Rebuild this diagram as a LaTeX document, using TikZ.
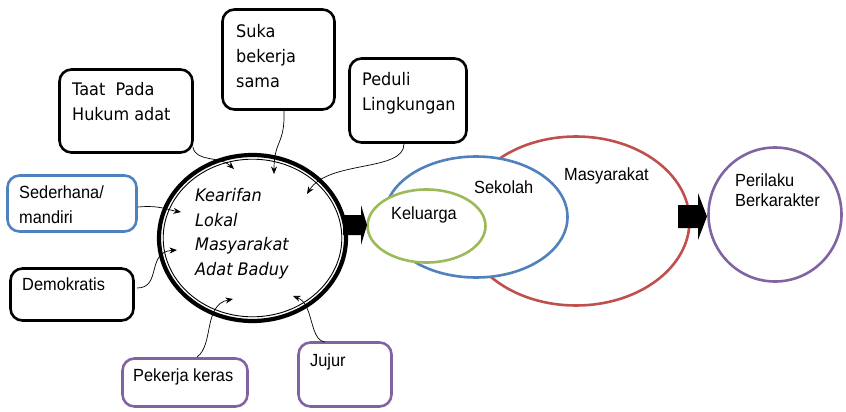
\documentclass[tikz,border=0pt]{standalone}
\usepackage{fontspec}
\setmainfont[FakeStretch=0.93]{Liberation Sans}
\newfontfamily\vfont[FakeStretch=0.93]{DejaVu Sans}
\usetikzlibrary{arrows.meta,shapes.geometric}
\definecolor{oblue}{HTML}{4F81BD}
\definecolor{ogreen}{HTML}{9BBB59}
\definecolor{ored}{HTML}{C0504D}
\definecolor{opurple}{HTML}{8064A2}
\begin{document}
\begin{tikzpicture}[x=1pt,y=-1pt,
  box/.style={draw, rounded corners=12pt, line width=2.6pt, inner sep=0pt},
  txt/.style={anchor=north west, inner sep=0pt, align=left, font=\fontsize{17.6}{25}\selectfont},
  vtxt/.style={anchor=north west, inner sep=0pt, align=left, font=\vfont\fontsize{17.3}{25}\selectfont},
  itxt/.style={anchor=north west, inner sep=0pt, align=left, font=\vfont\itshape\fontsize{17.3}{24.7}\selectfont},
  ell/.style={draw, ellipse, line width=2.6pt, inner sep=0pt},
  conn/.style={line width=0.7pt, -{Stealth[length=7.5pt,width=6pt]}},
  blockarrow/.style={fill=black}]
\useasboundingbox (0,0) rectangle (846,412);

% boxes
\node[box, minimum width=133pt, minimum height=83pt] (taat) at (126,111) {};
\node[vtxt] (taatT) at (72,82) {Taat\ \ Pada\\Hukum adat};
\node[box, minimum width=112pt, minimum height=100pt] (suka) at (278.5,59.5) {};
\node[vtxt] (sukaT) at (236,24) {Suka\\bekerja\\sama};
\node[box, minimum width=117pt, minimum height=84pt] (peduli) at (408,100.5) {};
\node[vtxt] (peduliT) at (362,72) {Peduli\\Lingkungan};
\node[box, draw=oblue, minimum width=129pt, minimum height=56pt] (seder) at (72,203.5) {};
\node[txt] (sederT) at (19,186) {Sederhana/\\mandiri};
\node[box, minimum width=123pt, minimum height=52pt] (demo) at (72,294.5) {};
\node[txt] (demoT) at (22,278) {Demokratis};
\node[box, draw=opurple, minimum width=125pt, minimum height=48pt] (pek) at (185,382.5) {};
\node[txt] (pekT) at (133,369) {Pekerja keras};
\node[box, draw=opurple, minimum width=93pt, minimum height=64pt] (jujur) at (345,374.5) {};
\node[txt] (jujurT) at (310,354) {Jujur};

% main circle
\node[ell, line width=4.2pt, minimum width=187pt, minimum height=166pt] (main) at (252.5,238) {};
\draw[line width=0.9pt] (main.center) ellipse [x radius=89.3, y radius=78.8];
\node[itxt] (mainT) at (195,188) {Kearifan\\Lokal\\Masyarakat\\Adat Baduy};

% connectors
\coordinate (taatS) at (193,147);  \coordinate (taatE) at (234,169);
\coordinate (sukaS) at (284,111);  \coordinate (sukaE) at (274,174);
\coordinate (peduliS) at (404,144); \coordinate (peduliE) at (307,194);
\coordinate (sederS) at (138,207); \coordinate (sederE) at (181,212);
\coordinate (demoS) at (137,288);  \coordinate (demoE) at (177,250);
\coordinate (pekS) at (197,357);   \coordinate (pekE) at (233,299);
\coordinate (jujurS) at (325,342); \coordinate (jujurE) at (293,296);
\draw[conn] (taatS) .. controls (195,162) and (220,156) .. (taatE);
\draw[conn] (sukaS) .. controls (285,145) and (274,140) .. (sukaE);
\draw[conn] (peduliS) .. controls (404,172) and (328,160) .. (peduliE);
\draw[conn] (sederS) .. controls (160,205) and (168,210) .. (sederE);
\draw[conn] (demoS) .. controls (162,288) and (146,252) .. (demoE);
\draw[conn] (pekS) .. controls (214,345) and (203,305) .. (pekE);
\draw[conn] (jujurS) .. controls (309,340) and (314,304) .. (jujurE);

% environment ellipses
\node[ell, draw=ored, minimum width=227pt, minimum height=169pt] (masy) at (576,221) {};
\node[ell, draw=oblue, fill=white, minimum width=183pt, minimum height=121pt] (sekolah) at (476,217) {};
\node[ell, draw=ogreen, fill=white, minimum width=118pt, minimum height=73pt] (kel) at (426.5,226) {};
\node[ell, draw=opurple, minimum width=133pt, minimum height=134pt] (peril) at (775,214.5) {};
\node[txt] (kelT) at (391,207) {Keluarga};
\node[txt] (sekT) at (474,181) {Sekolah};
\node[txt] (masyT) at (564,168) {Masyarakat};
\node[txt, font=\fontsize{17.6}{20}\selectfont] (perilT) at (735,174) {Perilaku\\Berkarakter};

% block arrows
\coordinate (b1) at (343,225);
\fill[blockarrow] (b1) ++(0,-10) -- ++(18,0) -- ++(0,-10) -- ++(6,20) -- ++(-6,20) -- ++(0,-10) -- ++(-18,0) -- cycle;
\coordinate (b2) at (678,216.5);
\fill[blockarrow] (b2) ++(0,-11.5) -- ++(20,0) -- ++(0,-12) -- ++(9,23.5) -- ++(-9,23.5) -- ++(0,-12) -- ++(-20,0) -- cycle;
\end{tikzpicture}
\end{document}
